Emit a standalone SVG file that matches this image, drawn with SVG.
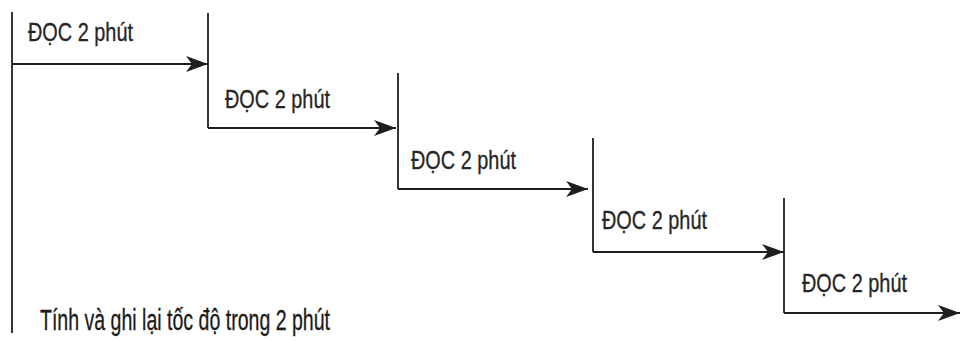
<svg xmlns="http://www.w3.org/2000/svg" width="960" height="341" viewBox="0 0 960 341">
  <defs>
    <marker id="arrow" markerUnits="userSpaceOnUse" markerWidth="24" markerHeight="18" refX="22" refY="8" orient="auto">
      <path d="M0,0 L22,8 L0,16 L6,8 Z" fill="#1e1e1e"/>
    </marker>
    <style>
      .ln { stroke: #1e1e1e; stroke-width: 1.8; fill: none; }
      .arr { stroke: #1e1e1e; stroke-width: 1.8; fill: none; marker-end: url(#arrow); }
      .lbl { font-family: "Liberation Sans", Arial, sans-serif; font-size: 25px; fill: #262626; stroke: #262626; stroke-width: 0.3; }
      .big { font-family: "Liberation Sans", Arial, sans-serif; font-size: 29px; fill: #1a1a1a; stroke: #1a1a1a; stroke-width: 0.3; }
    </style>
  </defs>
  <rect width="960" height="341" fill="#ffffff"/>
  <g id="connectors">
    <path class="ln" d="M12,12 L12,333"/>
    <path class="arr" d="M12,64 L208,64"/>
    <path class="ln" d="M208,13 L208,128"/>
    <path class="arr" d="M208,128 L396,128"/>
    <path class="ln" d="M398,73 L398,189"/>
    <path class="arr" d="M398,189 L588,189"/>
    <path class="ln" d="M593,138 L593,252"/>
    <path class="arr" d="M593,252 L784,252"/>
    <path class="ln" d="M784,198 L784,313"/>
    <path class="arr" d="M784,313 L960,313"/>
  </g>
  <g id="step1"><text class="lbl" x="28" y="41" textLength="105" lengthAdjust="spacingAndGlyphs">ĐỌC 2 phút</text></g>
  <g id="step2"><text class="lbl" x="225" y="108" textLength="105" lengthAdjust="spacingAndGlyphs">ĐỌC 2 phút</text></g>
  <g id="step3"><text class="lbl" x="411" y="169" textLength="105" lengthAdjust="spacingAndGlyphs">ĐỌC 2 phút</text></g>
  <g id="step4"><text class="lbl" x="602" y="229" textLength="105" lengthAdjust="spacingAndGlyphs">ĐỌC 2 phút</text></g>
  <g id="step5"><text class="lbl" x="802" y="292" textLength="105" lengthAdjust="spacingAndGlyphs">ĐỌC 2 phút</text></g>
  <g id="summary"><text class="big" x="40" y="330" textLength="290" lengthAdjust="spacingAndGlyphs">Tính và ghi lại tốc độ trong 2 phút</text></g>
</svg>
